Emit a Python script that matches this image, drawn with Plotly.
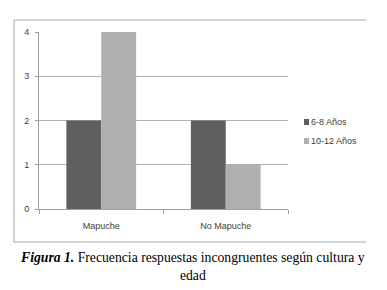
import plotly.graph_objects as go

categories = ["Mapuche", "No Mapuche"]
series_names = ["6-8 Años", "10-12 Años"]
values_6_8 = [2, 2]
values_10_12 = [4, 1]
y_ticks = [0, 1, 2, 3, 4]

colors = ["#5f5f5f", "#b0b0b0"]

fig = go.Figure()
for name, vals, col in zip(series_names, [values_6_8, values_10_12], colors):
    fig.add_trace(go.Bar(x=categories, y=vals, name=name, showlegend=False,
                         marker=dict(color=col, line=dict(width=0))))

# page has an 8px body margin; figure is sized so that it fills the window
OFF = 8
W, H = 387 - OFF, 290 - OFF
# plot area in page pixels: x 39..288, y 32..209
ml, mr, mt, mb = 39 - OFF, 387 - 288, 32 - OFF, 290 - 209
pw, ph = W - ml - mr, H - mt - mb

def px(x):
    return (x - OFF - ml) / pw

def py(y):
    return (H - mb - (y - OFF)) / ph

border = "#a8a8a8"
shapes = [
    dict(type="line", xref="paper", yref="paper", x0=px(14), x1=px(14), y0=py(20), y1=py(242), line=dict(color=border, width=1)),
    dict(type="line", xref="paper", yref="paper", x0=px(14), x1=px(366), y0=py(20), y1=py(20), line=dict(color=border, width=1)),
    dict(type="line", xref="paper", yref="paper", x0=px(14), x1=px(366), y0=py(242), y1=py(242), line=dict(color=border, width=1)),
]

annotations = []
leg_rows = [122, 141]
for name, col, yc in zip(series_names, colors, leg_rows):
    shapes.append(dict(type="rect", xref="paper", yref="paper",
                       x0=px(304), x1=px(309), y0=py(yc + 3), y1=py(yc - 3),
                       fillcolor=col, line=dict(width=0)))
    annotations.append(dict(xref="paper", yref="paper", x=px(309), y=py(yc), xanchor="left",
                            yanchor="middle", text=name, showarrow=False,
                            font=dict(size=9, color="#404040")))

annotations.append(dict(
    xref="paper", yref="paper", x=px(192), y=py(266), xanchor="center", yanchor="middle",
    text="<b><i>Figura 1.</i></b> Frecuencia respuestas incongruentes según cultura y<br>edad",
    showarrow=False, align="center",
    font=dict(family="Liberation Serif, Times New Roman", size=13.7, color="black"),
))

fig.update_layout(
    width=W, height=H,
    margin=dict(l=ml, r=mr, t=mt, b=mb, autoexpand=False),
    paper_bgcolor="white", plot_bgcolor="white",
    barmode="group", bargap=0.44, bargroupgap=0,
    font=dict(family="Liberation Sans, Arial", size=9, color="#404040"),
    showlegend=False,
    xaxis=dict(showline=True, linecolor="#a0a0a0", linewidth=1, ticks="outside", tickson="boundaries",
               ticklen=4, tickcolor="#a0a0a0", showgrid=False, tickfont=dict(size=9),
               ticklabelstandoff=8),
    yaxis=dict(range=[0, 4], tickvals=y_ticks, showline=True, linecolor="#a0a0a0", linewidth=1,
               ticks="outside", ticklen=3, tickcolor="#a0a0a0", showgrid=True, gridcolor="#b0b0b0",
               gridwidth=1, zeroline=False, tickfont=dict(size=9), ticklabelstandoff=4),
    shapes=shapes,
    annotations=annotations,
)

fig.write_html("out.html")
